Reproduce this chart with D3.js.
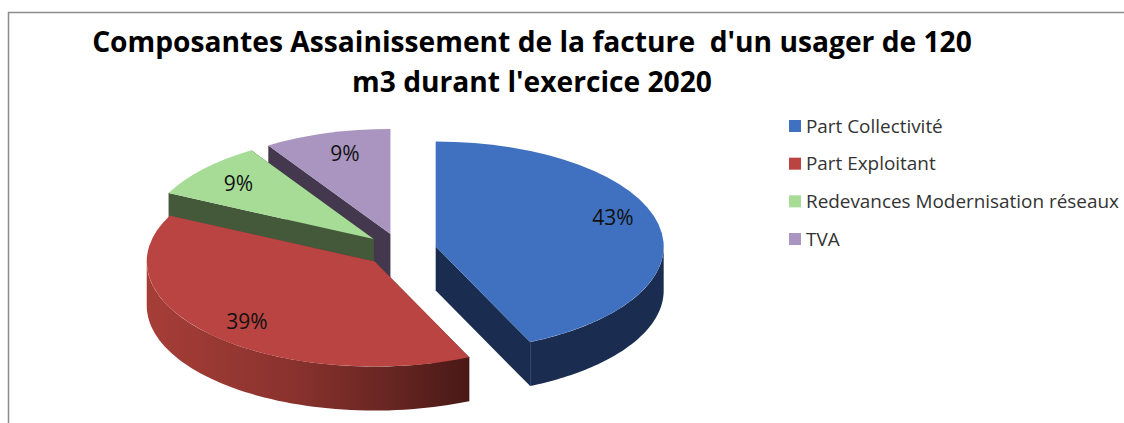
<!DOCTYPE html>
<html>
<head>
<meta charset="utf-8">
<script src="https://cdn.jsdelivr.net/npm/d3@7"></script>
<style>
  html, body { margin: 0; background: #fff; }
  svg { display: block; }
  text { white-space: pre; }
</style>
</head>
<body>
<div id="chart"></div>
<script>
const titleLines = ["Composantes Assainissement de la facture  d'un usager de 120", "m3 durant l'exercice 2020"];
const categories = ["Part Collectivité", "Part Exploitant", "Redevances Modernisation réseaux", "TVA"];
const values = [43.2, 39, 8.8, 9];
const topColors = ["#4070c0", "#b94441", "#a6dc96", "#a995bf"];
const wallColors = ["#1a2c50", "url(#redWall)", "#44583a", "#43384d"];
const labelNudges = [[0, -11], [2, 2], [0, 0], [5, 0]];

const width = 1124;
const height = 423;

const centerX = 400.5;
const centerY = 250;
const radius = 228;
const squash = 105 / 228;
const depth = 44;
const explode = 36;
const labelRadius = 0.795;

let svg = d3.select('#chart').append('svg')
  .attr('width', width)
  .attr('height', height)

// frame, only top and left are visible in the original
svg.append('path')
  .attr('d', d3.line()([[8.5, height], [8.5, 12.5], [width, 12.5]]))
  .attr('fill', 'none')
  .attr('stroke', '#8c8c8c')
  .attr('stroke-width', 1.5)

let gradient = svg.append('defs').append('linearGradient')
  .attr('id', 'redWall')
  .attr('gradientUnits', 'userSpaceOnUse')
  .attr('x1', 147).attr('x2', 468)
  .attr('y1', 0).attr('y2', 0)
gradient.selectAll('stop').data([[0, '#a63e37'], [0.45, '#8a322e'], [0.75, '#682622'], [1, '#491916']])
  .enter().append('stop')
    .attr('offset', d => d[0])
    .attr('stop-color', d => d[1])

svg.append('g').selectAll('text').data(titleLines)
  .enter().append('text')
    .attr('x', 532)
    .attr('y', (d, i) => 52 + i * 39.5)
    .attr('text-anchor', 'middle')
    .attr('font-family', '"Open Sans", sans-serif')
    .attr('font-weight', 700)
    .attr('font-size', 28.2)
    .attr('fill', '#000')
    .text(d => d)

let pie = d3.pie().sort(null)
let slices = pie(values)
let arc = d3.arc().innerRadius(0).outerRadius(radius)

// angle (clockwise from north) to a point of the flattened disc
let project = (c, a, r, drop) => [
  c[0] + r * Math.sin(a),
  c[1] - r * Math.cos(a) * squash + drop
]

let centerOf = s => {
  let mid = (s.startAngle + s.endAngle) / 2
  return project([centerX, centerY], mid, explode, 0)
}

let wallPath = (c, a0, a1) => {
  let angles = d3.range(0, 61).map(i => a0 + (a1 - a0) * i / 60)
  let top = angles.map(a => project(c, a, radius, 0))
  let bottom = angles.map(a => project(c, a, radius, depth)).reverse()
  return d3.line()(top.concat(bottom)) + 'Z'
}

let radialPath = (c, a) => {
  let p = project(c, a, radius, 0)
  return d3.line()([c, p, [p[0], p[1] + depth], [c[0], c[1] + depth]]) + 'Z'
}

let order = [3, 2, 1, 0]

order.forEach(i => {
  let s = slices[i]
  let c = centerOf(s)
  let g = svg.append('g')

  g.append('path').attr('d', radialPath(c, s.startAngle)).attr('fill', wallColors[i])
  g.append('path').attr('d', radialPath(c, s.endAngle)).attr('fill', wallColors[i])

  // outer wall only shows on the front half
  let a0 = Math.max(s.startAngle, Math.PI / 2)
  let a1 = Math.min(s.endAngle, Math.PI * 3 / 2)
  if (a1 > a0) {
    g.append('path').attr('d', wallPath(c, a0, a1)).attr('fill', wallColors[i])
  }

  g.append('path')
    .attr('d', arc(s))
    .attr('transform', `translate(${c[0]},${c[1]}) scale(1,${squash})`)
    .attr('fill', topColors[i])
})

svg.append('g').selectAll('text').data(slices)
  .enter().append('text')
    .attr('x', (d, i) => project(centerOf(d), (d.startAngle + d.endAngle) / 2, radius * labelRadius, 0)[0] + labelNudges[i][0])
    .attr('y', (d, i) => project(centerOf(d), (d.startAngle + d.endAngle) / 2, radius * labelRadius, 0)[1] + labelNudges[i][1])
    .attr('dy', '0.35em')
    .attr('text-anchor', 'middle')
    .attr('font-family', '"Open Sans", sans-serif')
    .attr('font-size', 21)
    .attr('fill', '#111')
    .text(d => Math.round(d.data) + '%')

let legendY = d3.scalePoint().domain(categories).range([126, 239])

let legend = svg.append('g').selectAll('g').data(categories)
  .enter().append('g')
    .attr('transform', d => `translate(789,${legendY(d)})`)

legend.append('rect')
  .attr('x', 0)
  .attr('y', -6)
  .attr('width', 12)
  .attr('height', 12)
  .attr('fill', (d, i) => topColors[i])

legend.append('text')
  .attr('x', 17)
  .attr('dy', '0.35em')
  .attr('font-family', '"Open Sans", sans-serif')
  .attr('font-size', 18.9)
  .attr('fill', '#333')
  .text(d => d)
</script>
</body>
</html>
